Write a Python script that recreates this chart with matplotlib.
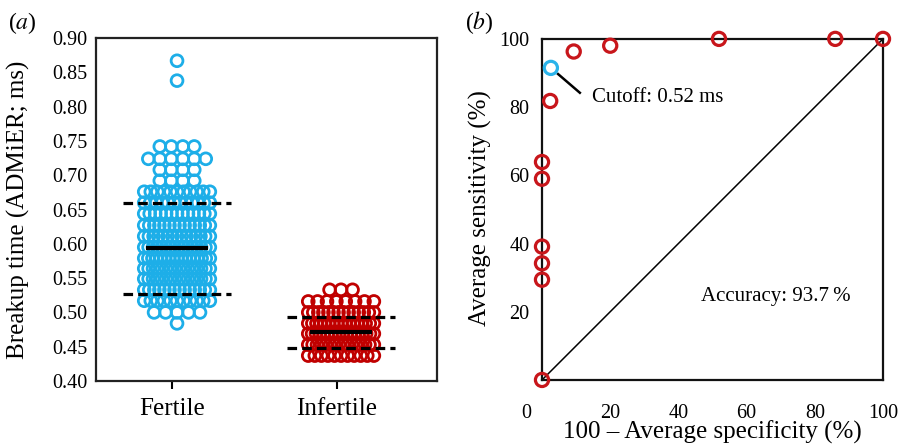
import numpy as np
import matplotlib
matplotlib.use('Agg')
import matplotlib.pyplot as plt
from matplotlib.transforms import ScaledTranslation

plt.rcParams['font.family'] = ['Liberation Serif', 'DejaVu Serif']
plt.rcParams['mathtext.fontset'] = 'stix'

# panel (a): breakup time rows (value levels and how many samples sit on each)
groups = ['Fertile', 'Infertile']
fertile_levels = [0.867, 0.838, 0.742, 0.724, 0.708, 0.692, 0.676, 0.660, 0.644, 0.627,
                  0.611, 0.595, 0.579, 0.564, 0.549, 0.533, 0.517, 0.500, 0.484]
fertile_counts = [1, 1, 4, 6, 4, 4, 11, 12, 13, 14, 15, 16, 17, 16, 16, 14, 11, 5, 1]
infertile_levels = [0.533, 0.516, 0.500, 0.484, 0.469, 0.453, 0.437]
infertile_counts = [3, 8, 14, 17, 18, 16, 11]
group_mean = [0.594, 0.471]
group_upper = [0.660, 0.493]
group_lower = [0.527, 0.448]

# panel (b): ROC curve
roc_fpr = [0, 0, 0, 0, 0, 0, 2.4, 9.3, 20.0, 51.9, 86.0, 100]
roc_tpr = [0, 29.4, 34.2, 39.1, 59.0, 63.9, 81.8, 96.3, 98.0, 100, 100, 100]
cutoff_fpr = [2.6]
cutoff_tpr = [91.5]

CYAN = '#1DAEE8'
RED = '#C00000'


def row_positions(center, n, spacing=0.07, max_half=0.2):
    """Spread n points of one value row evenly around the group centre."""
    if n == 1:
        return np.array([center])
    half = min(max_half, (n - 1) * spacing / 2)
    return np.linspace(center - half, center + half, n)


def swarm(center, levels, counts):
    xs, ys = [], []
    for lev, n in zip(levels, counts):
        xs.extend(row_positions(center, n))
        ys.extend([lev] * n)
    return np.array(xs), np.array(ys)


fig = plt.figure(figsize=(8.99, 4.47), dpi=100)

# ---- panel (a)
ax1 = fig.add_axes([0.1068, 0.1477, 0.3793, 0.767])
for i, (levels, counts, color) in enumerate([(fertile_levels, fertile_counts, CYAN),
                                             (infertile_levels, infertile_counts, RED)]):
    c = i + 1
    xs, ys = swarm(c, levels, counts)
    ax1.scatter(xs, ys, s=72, facecolors='none', edgecolors=color, linewidths=2.0, zorder=2)
    ax1.plot([c - 0.19, c + 0.19], [group_mean[i]] * 2, color='black', lw=3, zorder=3,
             solid_capstyle='butt')
    for val in (group_upper[i], group_lower[i]):
        ax1.plot([c - 0.33, c + 0.33], [val] * 2, color='black', lw=2.3, zorder=3,
                 dashes=(3, 1.6))

ax1.set_xlim(0.506, 2.585)
ax1.set_ylim(0.40, 0.90)
ax1.set_yticks(np.arange(0.40, 0.901, 0.05))
ax1.set_yticklabels([f'{v:.2f}' for v in np.arange(0.40, 0.901, 0.05)])
ax1.set_xticks([0.97, 1.975])
ax1.set_xticklabels(groups, fontsize=18)
ax1.tick_params(axis='y', length=0, pad=6, labelsize=14.5)
ax1.tick_params(axis='x', length=6, width=1.5, pad=6, direction='out')
ax1.set_ylabel('Breakup time (ADMiER; ms)', fontsize=18)
ax1.yaxis.set_label_coords(-0.194, 0.5)
for sp in ax1.spines.values():
    sp.set_linewidth(1.6)
    sp.set_color('#222222')
fig.text(0.009, 0.949, r'($a$)', fontsize=17, va='center', ha='left')

# ---- panel (b)
ax2 = fig.add_axes([0.6029, 0.150, 0.3793, 0.763])
ax2.plot([0, 100], [0, 100], color='black', lw=1.1, zorder=1)
ax2.scatter(roc_fpr, roc_tpr, s=90, facecolors='none', edgecolors='#C8161B',
            linewidths=2.3, zorder=3, clip_on=False)
ax2.scatter(cutoff_fpr, cutoff_tpr, s=90, facecolors='none', edgecolors='#2AB3EA',
            linewidths=2.3, zorder=3, clip_on=False)
ax2.plot([4.7, 11.1], [89.7, 84.2], color='black', lw=1.8)
ax2.text(14.7, 82.8, 'Cutoff: 0.52 ms', fontsize=15, va='center', ha='left')
ax2.text(46.5, 24.6, 'Accuracy: 93.7\u2009%', fontsize=15, va='center', ha='left')

ax2.set_xlim(0, 100)
ax2.set_ylim(0, 100)
ax2.set_xticks([0, 20, 40, 60, 80, 100])
ax2.set_yticks([20, 40, 60, 80, 100])
ax2.tick_params(axis='x', length=0, pad=17, labelsize=14.5)
ax2.tick_params(axis='y', length=0, pad=9, labelsize=14.5)
# the zero label sits a little left of the axis corner in the original
lbl0 = ax2.get_xticklabels()[0]
lbl0.set_transform(lbl0.get_transform() + ScaledTranslation(-0.16, 0, fig.dpi_scale_trans))
ax2.set_ylabel('Average sensitivity (%)', fontsize=18)
ax2.yaxis.set_label_coords(-0.147, 0.504)
ax2.set_xlabel('100 \u2013 Average specificity (%)', fontsize=18)
ax2.xaxis.set_label_coords(0.5, -0.12)
for sp in ax2.spines.values():
    sp.set_linewidth(1.6)
    sp.set_color('#111111')
fig.text(0.517, 0.949, r'($b$)', fontsize=17, va='center', ha='left')

fig.savefig('out.png', dpi=100)
